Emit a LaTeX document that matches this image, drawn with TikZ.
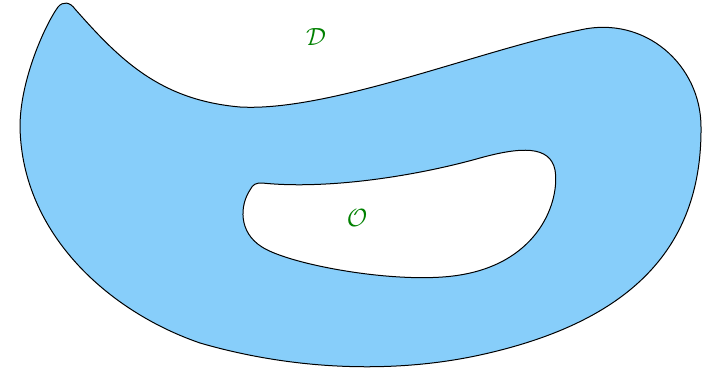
\documentclass[tikz,border=0pt]{standalone}
\begin{document}
\begin{tikzpicture}[x=1pt,y=-1pt,
  region/.style={draw=black,line width=1pt,fill={rgb,255:red,135;green,206;blue,250},even odd rule},
  lbl/.style={text={rgb,255:red,0;green,128;blue,0},font=\fontsize{24}{24}\selectfont}]
\useasboundingbox (0,0) rectangle (717,369);
\path[region]
  (20,127) .. controls (20,80) and (45,25) .. (58,7)
  .. controls (63,1) and (70,2) .. (75,9)
  .. controls (120,60) and (160,100) .. (240,107)
  .. controls (330,112) and (480,50) .. (580,30)
  .. controls (645,15) and (701,65) .. (701,127)
  .. controls (702,240) and (640,320) .. (480,355)
  .. controls (400,372.5) and (300,372) .. (200,343)
  .. controls (110,312) and (22,235) .. (20,127) -- cycle
  (262,183) .. controls (330,190) and (420,175) .. (480,158)
  .. controls (520,147) and (550,145) .. (555,170)
  .. controls (560,200) and (540,262) .. (460,275)
  .. controls (400,285) and (290,265) .. (262,247)
  .. controls (238,232) and (240,205) .. (250,190)
  .. controls (253,184) and (256,183) .. (262,183) -- cycle;
\node[lbl] (D) at (316,37) {$\mathcal{D}$};
\node[lbl] (O) at (357,218) {$\mathcal{O}$};
\end{tikzpicture}
\end{document}
